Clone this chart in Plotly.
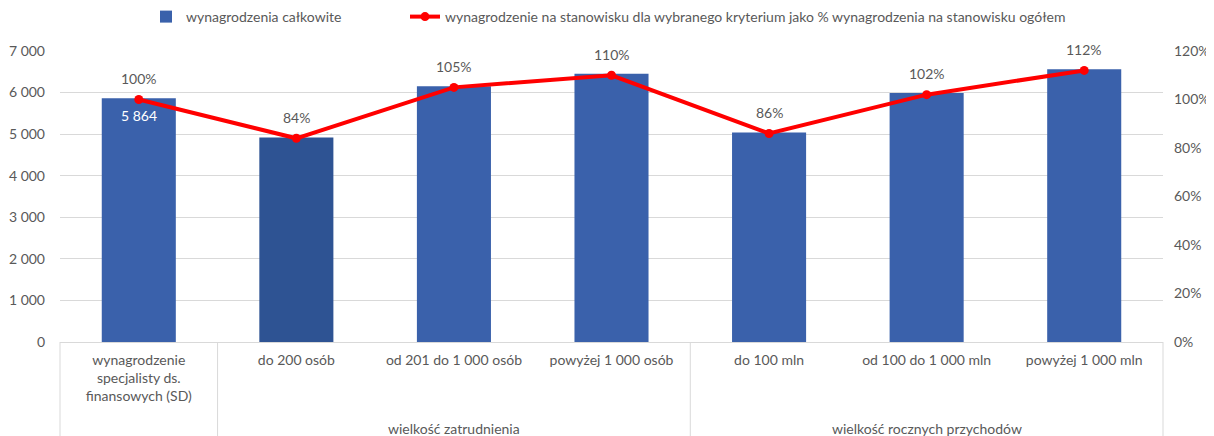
import plotly.graph_objects as go

categories = [
    "wynagrodzenie<br>specjalisty ds.<br>finansowych (SD)",
    "do 200 osób",
    "od 201 do 1 000 osób",
    "powyżej 1 000 osób",
    "do 100 mln",
    "od 100 do 1 000 mln",
    "powyżej 1 000 mln",
]
salary = [5864, 4920, 6150, 6450, 5040, 5990, 6560]
percent = [100, 84, 105, 110, 86, 102, 112]
bar_colors = ["#3A61AB", "#2E5393", "#3A61AB", "#3A61AB", "#3A61AB", "#3A61AB", "#3A61AB"]
groups = [("wielkość zatrudnienia", 1, 3), ("wielkość rocznych przychodów", 4, 6)]
bar_name = "wynagrodzenia całkowite"
line_name = "wynagrodzenie na stanowisku dla wybranego kryterium jako % wynagrodzenia na stanowisku ogółem"
left_ticks = list(range(0, 7001, 1000))
right_ticks = list(range(0, 121, 20))
right_labels = [f"{v}%" for v in right_ticks]

# the page body adds an 8px offset, so the figure is sized/placed to compensate
OFF = 8
W, H = 1214 - OFF, 436 - OFF
ML, MR, MT, MB = 60 - OFF, 51, 51 - OFF, 94
plot_h = H - MT - MB
plot_w = W - ML - MR
FONT = "Lato, 'Liberation Sans', sans-serif"
GRAY = "#595959"
FS = 14

fig = go.Figure()
fig.add_trace(go.Bar(
    x=categories, y=salary, name=bar_name, legend="legend",
    marker=dict(color=bar_colors, line=dict(width=0)),
))
fig.add_trace(go.Scatter(
    x=categories, y=percent, name=line_name, yaxis="y2", legend="legend2",
    mode="lines+markers",
    line=dict(color="#FF0000", width=4),
    marker=dict(color="#FF0000", size=9),
))

annotations = []
for c, p in zip(categories, percent):
    annotations.append(dict(
        x=c, y=p, xref="x", yref="y2", text=f"{p}%", showarrow=False,
        xanchor="center", yshift=21, font=dict(size=FS, color=GRAY, family=FONT),
    ))
annotations.append(dict(
    x=categories[0], y=salary[0], xref="x", yref="y",
    text=f"{salary[0]:,}".replace(",", " "), showarrow=False, yshift=-17,
    xanchor="center", font=dict(size=FS, color="white", family=FONT),
))
n = len(categories)
label_y = -(428 - OFF - (H - MB)) / plot_h
for name, a, b in groups:
    annotations.append(dict(
        x=((a + b) / 2 + 0.5) / n, y=label_y, xref="paper", yref="paper",
        text=name, showarrow=False, xanchor="center", yanchor="middle",
        font=dict(size=FS, color=GRAY, family=FONT),
    ))

shapes = []
bottom = -MB / plot_h
boundaries = [0, 1, 4, n]
for bnd in boundaries:
    shapes.append(dict(
        type="line", xref="paper", yref="paper",
        x0=bnd / n, x1=bnd / n, y0=0, y1=bottom,
        line=dict(color="#D9D9D9", width=1),
    ))

leg_y = 1 - (17 - OFF) / H
common_leg = dict(
    orientation="h", xanchor="left", yanchor="middle", yref="container",
    y=leg_y, font=dict(size=FS, color=GRAY, family=FONT),
    bgcolor="rgba(0,0,0,0)",
)

fig.update_layout(
    width=W, height=H,
    margin=dict(l=ML, r=MR, t=MT, b=MB, autoexpand=False),
    paper_bgcolor="white", plot_bgcolor="white",
    font=dict(family=FONT, size=FS, color=GRAY),
    separators=", ",
    bargap=0.53,
    showlegend=True,
    legend=dict(common_leg, x=(146 - OFF - ML) / plot_w),
    legend2=dict(common_leg, x=(405 - OFF - ML) / plot_w),
    xaxis=dict(
        type="category", range=[-0.5, n - 0.5], automargin=False,
        showline=True, linecolor="#D9D9D9", linewidth=1,
        showgrid=False, ticks="", tickfont=dict(size=FS, color=GRAY),
        ticklabelstandoff=5,
    ),
    yaxis=dict(
        range=[0, 7000], tickvals=left_ticks, tickformat=",d", automargin=False,
        showgrid=True, gridcolor="#D9D9D9", gridwidth=1,
        zeroline=False, showline=False, ticks="",
        tickfont=dict(size=FS, color=GRAY), ticklabelstandoff=14,
    ),
    yaxis2=dict(
        range=[0, 120], tickvals=right_ticks, ticktext=right_labels, automargin=False,
        overlaying="y", side="right", showgrid=False, zeroline=False,
        showline=False, ticks="", tickfont=dict(size=FS, color=GRAY),
        ticklabelstandoff=10,
    ),
    annotations=annotations,
    shapes=shapes,
)
fig.write_html("out.html")
